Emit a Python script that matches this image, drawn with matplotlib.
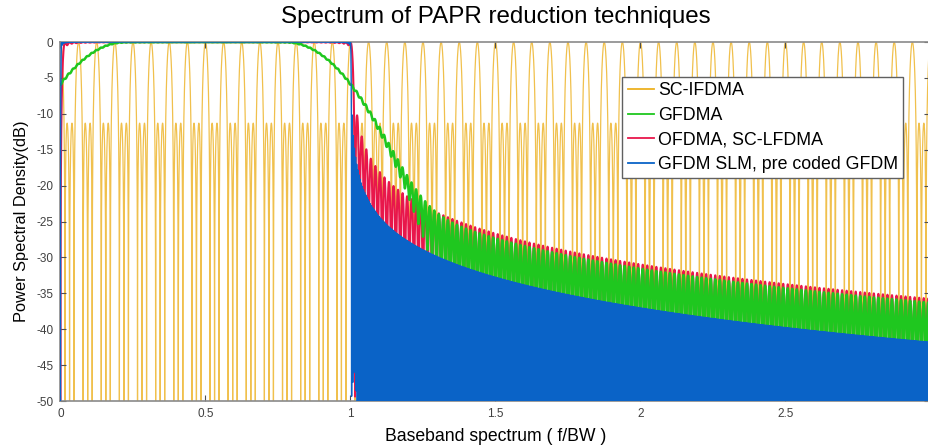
import numpy as np
import matplotlib
matplotlib.use("Agg")
import matplotlib.pyplot as plt
from matplotlib.lines import Line2D

plt.rcParams["font.family"] = ["Liberation Sans", "DejaVu Sans"]
plt.rcParams["axes.unicode_minus"] = False

# Legend entries (legend order) and their colours
series_labels = ["SC-IFDMA", "GFDMA", "OFDMA, SC-LFDMA", "GFDM SLM, pre coded GFDM"]
series_colors = ["#EDB120", "#1FC71F", "#E8174B", "#0A63C7"]

# Signal parameters of the four schemes
ifdma_lobes_per_bw = 16        # interleaved comb: main lobes per bandwidth
ifdma_block = 4                # Dirichlet order (two sidelobes between main lobes)
ofdma_subcarriers = 64
slm_subcarriers = 256
gfdma_subcarriers = 64
gfdma_flat_band = [0.22, 0.78]  # flat part of the GFDMA spectral mask (f/BW)
gfdma_edge_sigma = 0.133        # Gaussian roll-off of the mask outside the flat part
gfdma_index_range = [-40, 105]  # subcarrier indices carrying mask power

# Axis ticks
x_ticks = [0, 0.5, 1, 1.5, 2, 2.5, 3]
x_tick_labels = ["0", "0.5", "1", "1.5", "2", "2.5", "3"]
y_ticks = [0, -5, -10, -15, -20, -25, -30, -35, -40, -45, -50]
y_tick_labels = ["0", "-5", "-10", "-15", "-20", "-25", "-30", "-35", "-40", "-45", "-50"]

f = np.linspace(0.0, 3.0, 36001)


def to_db(p):
    return 10.0 * np.log10(np.maximum(p, 1e-12))


def subcarrier_psd(freq, n, indices, weights):
    out = np.zeros_like(freq)
    for k, w in zip(indices, weights):
        out += w * np.sinc(n * freq - k) ** 2
    return out


# SC-IFDMA: periodic Dirichlet comb
arg = np.pi * ifdma_lobes_per_bw * f
den = ifdma_block * np.sin(arg)
num = np.sin(ifdma_block * arg)
safe = np.abs(den) > 1e-12
ratio = np.where(safe, num / np.where(safe, den, 1.0), 1.0)
psd_ifdma = ratio ** 2

# OFDMA / SC-LFDMA: contiguous block of sinc^2 subcarriers
k_ofdma = np.arange(1, ofdma_subcarriers + 1)
psd_ofdma = subcarrier_psd(f, ofdma_subcarriers, k_ofdma, np.ones(len(k_ofdma)))

# GFDM SLM / precoded GFDM: finer subcarrier grid over the same band
k_slm = np.arange(1, slm_subcarriers + 1)
psd_slm = subcarrier_psd(f, slm_subcarriers, k_slm, np.ones(len(k_slm)))

# GFDMA: subcarrier powers follow a flat-top mask with Gaussian edges
k_gfdma = np.arange(gfdma_index_range[0], gfdma_index_range[1] + 1)
centres = k_gfdma / gfdma_subcarriers
dist = np.maximum(0.0, np.maximum(gfdma_flat_band[0] - centres, centres - gfdma_flat_band[1]))
mask = np.exp(-dist ** 2 / (2.0 * gfdma_edge_sigma ** 2))
psd_gfdma = subcarrier_psd(f, gfdma_subcarriers, k_gfdma, mask)

fig = plt.figure(figsize=(9.29, 4.48), dpi=100)
ax = fig.add_axes([0.0651, 0.1049, 0.9365, 0.8013])

h_ifdma, = ax.plot(f, to_db(psd_ifdma), color=series_colors[0], lw=0.9, alpha=0.8, zorder=1)
h_ofdma, = ax.plot(f, to_db(psd_ofdma), color=series_colors[2], lw=1.5, zorder=2)
h_gfdma, = ax.plot(f, to_db(psd_gfdma), color=series_colors[1], lw=1.8, zorder=3)
h_slm, = ax.plot(f, to_db(psd_slm), color=series_colors[3], lw=1.0, zorder=4)

ax.set_xlim(0, 3)
ax.set_ylim(-50, 0)
ax.set_xticks(x_ticks)
ax.set_xticklabels(x_tick_labels)
ax.set_yticks(y_ticks)
ax.set_yticklabels(y_tick_labels)
ax.tick_params(direction="in", length=4, width=0.8, top=True, right=True,
               labelsize=8.5, labelcolor="#404040", color="#505050", pad=5)
for sp in ax.spines.values():
    sp.set_color("#8a8a8a")
    sp.set_linewidth(1.2)

ax.set_title("Spectrum of PAPR reduction techniques", fontsize=17.4, pad=14)
ax.set_xlabel("Baseband spectrum ( f/BW )", fontsize=12.7, labelpad=6)
ax.set_ylabel("Power Spectral Density(dB)", fontsize=11.8, labelpad=5)

proxies = [Line2D([], [], color=series_colors[i], lw=1.3) for i in range(4)]
leg = fig.legend(proxies, series_labels, loc="upper left",
                 bbox_to_anchor=(0.670, 0.828), bbox_transform=fig.transFigure,
                 fontsize=12.8, frameon=True, fancybox=False, framealpha=1.0,
                 edgecolor="#606060", handlelength=1.45, handletextpad=0.25,
                 labelspacing=0.42, borderpad=0.3, borderaxespad=0.0)
leg.get_frame().set_linewidth(1.0)

fig.savefig("out.png", dpi=100)
